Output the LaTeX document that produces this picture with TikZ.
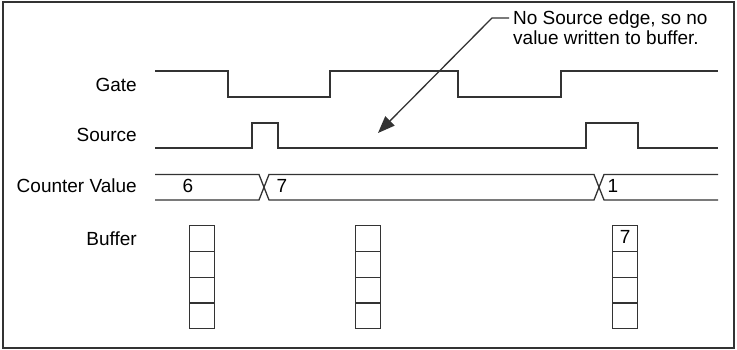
\documentclass[tikz,border=0pt]{standalone}
\usepackage{fontspec}
\setmainfont{Liberation Sans}
\usetikzlibrary{arrows.meta}
\begin{document}
\begin{tikzpicture}[x=1pt,y=-1pt,
  sig/.style={line width=1.3pt,draw=black!80,line join=miter},
  txt/.style={inner sep=0pt,font=\fontsize{19}{22}\selectfont},
  lbl/.style={txt,anchor=base east},
  val/.style={txt,anchor=base},
  cell/.style={draw=black!80,line width=1.3pt,minimum width=25pt,
    minimum height=25.75pt,inner sep=0pt,anchor=north west,
    font=\fontsize{19}{22}\selectfont}]
\useasboundingbox (0,0) rectangle (737,350);
% outer frame
\draw[line width=2pt,draw=black!80] (3,2) rectangle (734,348);

% row labels
\node[lbl] (gate) at (137,92) {Gate};
\node[lbl] (source) at (137,142) {Source};
\node[lbl] (counter) at (137,192.5) {Counter Value};
\node[lbl] (buffer) at (137,245) {Buffer};

% Gate signal
\draw[sig] (155,71) -- (228,71) -- (228,97) -- (330,97) -- (330,71)
  -- (458,71) -- (458,97) -- (561,97) -- (561,71) -- (718,71);
% Source signal
\draw[sig] (155,148) -- (252,148) -- (252,123) -- (278,123) -- (278,148)
  -- (586,148) -- (586,123) -- (638,123) -- (638,148) -- (718,148);
% Counter value bus
\draw[sig] (155,174.5) -- (259,174.5) -- (269,200) -- (594,200)
  -- (604,174.5) -- (718,174.5);
\draw[sig] (155,200) -- (259,200) -- (269,174.5) -- (594,174.5)
  -- (604,200) -- (718,200);
\node[val] (v6) at (188,192.5) {6};
\node[val] (v7) at (282,192.5) {7};
\node[val] (v1) at (613,192.5) {1};

% buffers
\foreach \bx/\bn in {189/a,355/b,612/c}{
  \foreach \i in {0,1,2,3}{
    \node[cell] (buf\bn\i) at (\bx,225+25.75*\i) {};
  }
}
\node[val] (b7) at (bufc0.center |- 0,243.5) {7};

% annotation with leader arrow
\node[txt,anchor=base west] (note1) at (513,25) {No Source edge, so no};
\node[txt,anchor=base west] (note2) at (513,45) {value written to buffer.};
\coordinate (lead) at (509,18);
\coordinate (bend) at (492,18);
\coordinate (tip) at (378,133);
\draw[line width=1.3pt,draw=black!80,-{Triangle[length=17pt,width=13pt]}]
  (lead) -- (bend) -- (tip);
\end{tikzpicture}
\end{document}
